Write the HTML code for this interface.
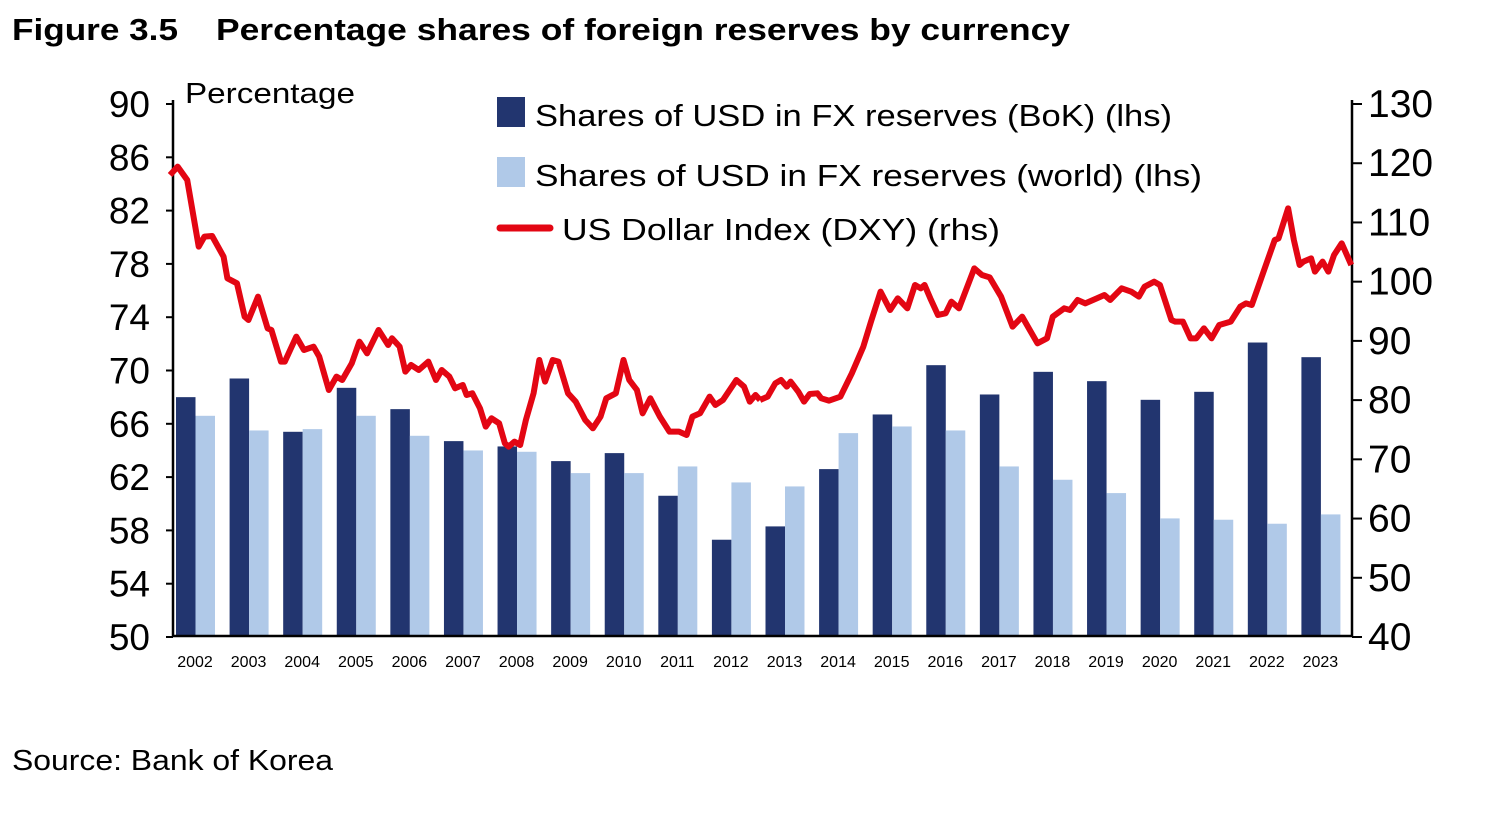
<!DOCTYPE html>
<html><head><meta charset="utf-8"><style>
body{margin:0;background:#fff;width:1500px;height:810px;overflow:hidden;font-family:"Liberation Sans",sans-serif}
</style></head><body>
<svg width="1500" height="810" xmlns="http://www.w3.org/2000/svg" font-family="Liberation Sans, sans-serif">
<text x="12" y="40" font-size="31" font-weight="bold" textLength="166" lengthAdjust="spacingAndGlyphs">Figure 3.5</text>
<text x="216" y="40" font-size="31" font-weight="bold" textLength="854" lengthAdjust="spacingAndGlyphs">Percentage shares of foreign reserves by currency</text>
<text x="185" y="103" font-size="29" textLength="170" lengthAdjust="spacingAndGlyphs">Percentage</text>
<g id="bars"></g>
<line x1="173" y1="100" x2="173" y2="637" stroke="#000" stroke-width="2.5"/>
<line x1="1352" y1="100" x2="1352" y2="637" stroke="#000" stroke-width="2.5"/>
<line x1="172" y1="636" x2="1353" y2="636" stroke="#000" stroke-width="2.5"/>
<g id="ticks" font-size="37"></g>
<g transform="translate(170,150) scale(0.3827,0.3333)" fill="none" stroke="#e30613">
<polyline vector-effect="non-scaling-stroke" stroke-width="6" stroke-linejoin="round" points="0,75 20,50 45,90 75,290 90,260 110,258 140,320 150,385 175,400 195,500 205,510 230,440 255,535 265,540 290,635 300,635 330,560 350,600 375,590 390,620 415,720 435,680 450,690 475,640 495,575 515,610 545,540 570,585 580,565 600,590 615,665 630,645 650,660 675,635 695,690 710,660 730,680 745,715 765,705 775,735 790,730 810,775 825,830 840,805 860,820 875,880 885,890 900,875 915,885 930,810 950,730 965,630 980,695 1000,630 1015,635 1040,730 1060,755 1085,810 1105,835 1125,800 1140,745 1165,730 1185,630 1200,690 1220,720 1235,790 1255,745 1280,800 1305,845 1330,845 1350,855 1365,800 1385,790 1410,740 1425,765 1445,750 1480,690 1500,710 1515,755 1530,735 1542,750"/>
</g>
<g transform="translate(760,190) scale(0.3827,0.3333)" fill="none" stroke="#e30613">
<polyline vector-effect="non-scaling-stroke" stroke-width="6" stroke-linejoin="round" points="0,630 20,620 40,580 55,570 70,590 80,575 100,605 115,635 130,612 150,610 160,625 180,632 210,620 240,550 270,470 290,395 315,305 340,360 360,325 385,355 405,285 420,295 430,285 445,325 465,375 485,370 500,335 520,355 560,235 580,255 600,262 630,320 660,410 685,380 705,420 725,460 750,445 765,380 795,355 810,360 830,330 850,340 880,325 900,315 915,330 945,295 970,305 990,320 1005,290 1030,275 1045,285 1075,390 1085,395 1105,395 1125,445 1140,445 1160,415 1180,445 1200,405 1230,395 1255,350 1270,340 1285,345 1305,280 1325,215 1345,150 1355,145 1380,55 1395,150 1410,225 1420,215 1440,205 1450,245 1470,215 1485,245 1500,195 1520,160 1545,225"/>
</g>
<rect x="497" y="97" width="28" height="30" fill="#22356f"/>
<text x="535" y="126" font-size="31" textLength="637" lengthAdjust="spacingAndGlyphs">Shares of USD in FX reserves (BoK) (lhs)</text>
<rect x="497" y="157" width="28" height="30" fill="#b0c9e8"/>
<text x="535" y="186" font-size="31" textLength="667" lengthAdjust="spacingAndGlyphs">Shares of USD in FX reserves (world) (lhs)</text>
<line x1="500" y1="228" x2="550" y2="228" stroke="#e30613" stroke-width="7" stroke-linecap="round"/>
<text x="562" y="240" font-size="31" textLength="438" lengthAdjust="spacingAndGlyphs">US Dollar Index (DXY) (rhs)</text>
<text x="12" y="770" font-size="29" textLength="321" lengthAdjust="spacingAndGlyphs">Source: Bank of Korea</text>
</svg>
<script>
var bok=[68.0,69.4,65.4,68.7,67.1,64.7,64.3,63.2,63.8,60.6,57.3,58.3,62.6,66.7,70.4,68.2,69.9,69.2,67.8,68.4,72.1,71.0];
var wld=[66.6,65.5,65.6,66.6,65.1,64.0,63.9,62.3,62.3,62.8,61.6,61.3,65.3,65.8,65.5,62.8,61.8,60.8,58.9,58.8,58.5,59.2];
var ns="http://www.w3.org/2000/svg";
function el(t,a,p,txt){var e=document.createElementNS(ns,t);for(var k in a)e.setAttribute(k,a[k]);if(txt)e.textContent=txt;p.appendChild(e);return e;}
var g=document.getElementById('bars');
function Y(v){return 104+(90-v)*533/40;}
var gw=1179/22;
for(var i=0;i<22;i++){var x0=173+i*gw;
el('rect',{x:x0+3,y:Y(bok[i]),width:19.5,height:636-Y(bok[i]),fill:'#22356f'},g);
el('rect',{x:x0+22.5,y:Y(wld[i]),width:19.5,height:636-Y(wld[i]),fill:'#b0c9e8'},g);
el('text',{x:x0+22,y:667,'font-size':16,'text-anchor':'middle'},g,String(2002+i));}
var t=document.getElementById('ticks');
for(var v=50;v<=90;v+=4){var y=Y(v);el('line',{x1:166,y1:y,x2:173,y2:y,stroke:'#000','stroke-width':2},t);
el('text',{x:150,y:y+13,'text-anchor':'end'},t,String(v));}
for(var r=40;r<=130;r+=10){var y=104+(130-r)*533/90;el('line',{x1:1352,y1:y,x2:1362,y2:y,stroke:'#000','stroke-width':2},t);
el('text',{x:1368,y:y+13,'font-size':39},t,String(r));}
</script>
</body></html>
